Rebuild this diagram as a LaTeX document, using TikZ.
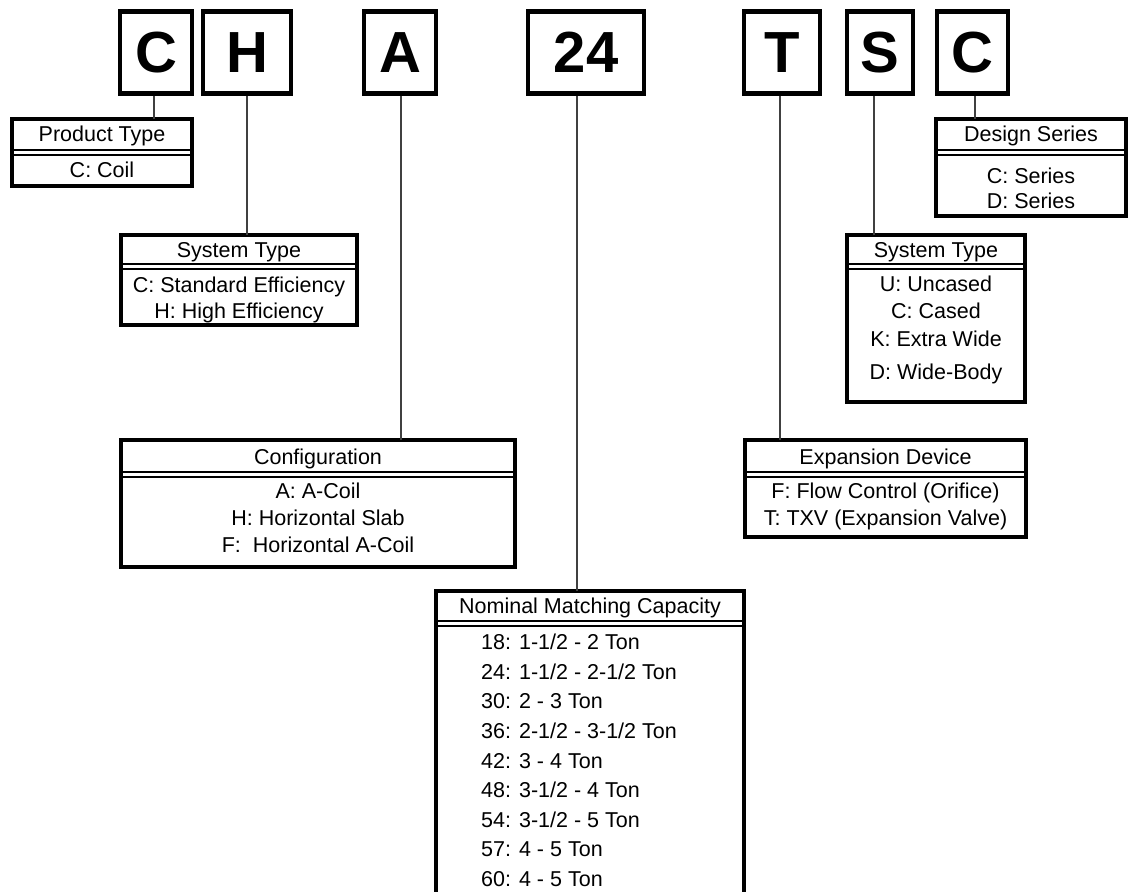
\documentclass[tikz,border=0pt]{standalone}
\usepackage{fontspec}
\setmainfont{Liberation Sans}
\begin{document}
\begin{tikzpicture}[x=1pt,y=-1pt,
  letterbox/.style={draw, line width=4.5pt, inner sep=0pt, minimum height=82pt,
    font=\fontsize{58}{58}\selectfont\bfseries},
  infobox/.style={draw, line width=4.5pt, inner sep=0pt, outer sep=0pt},
  txt/.style={inner sep=0pt, anchor=base, font=\fontsize{21.5}{24}\selectfont},
  ltxt/.style={txt, anchor=base west},
  link/.style={line width=1.2pt, draw=black!75},
  hrule/.style={line width=2.6pt},
  hrulet/.style={line width=2pt}]
\useasboundingbox (0,0) rectangle (1131,891);

% code letters
\node[letterbox, minimum width=72pt]  (lC)  at (156,52.5)   {C};
\node[letterbox, minimum width=88pt]  (lH)  at (247,52.5)   {H};
\node[letterbox, minimum width=72pt]  (lA)  at (400,52.5)   {A};
\node[letterbox, minimum width=116pt] (l24) at (586,52.5)   {24};
\node[letterbox, minimum width=76pt]  (lT)  at (782,52.5)   {T};
\node[letterbox, minimum width=66pt]  (lS)  at (880,52.5)   {S};
\node[letterbox, minimum width=71pt]  (lC2) at (972.5,52.5) {C};

% Product Type
\node[infobox, minimum width=180pt, minimum height=67pt] (pt) at (102,152.5) {};
\draw[hrule]  (12,150) -- (192,150);
\draw[hrulet] (12,154.5) -- (192,154.5);
\node[txt] (pth) at (102,141.7) {Product Type};
\node[txt] (pt1) at (102,177.7) {C: Coil};

% Design Series
\node[infobox, minimum width=190pt, minimum height=97pt] (ds) at (1031,167.5) {};
\draw[hrule]  (936,150) -- (1126,150);
\draw[hrulet] (936,154.5) -- (1126,154.5);
\node[txt] (dsh) at (1031,141.7) {Design Series};
\node[txt] (ds1) at (1031,183.7) {C: Series};
\node[txt] (ds2) at (1031,208.7) {D: Series};

% System Type (left)
\node[infobox, minimum width=236pt, minimum height=90pt] (stl) at (239,280) {};
\draw[hrule]  (121,264) -- (357,264);
\draw[hrulet] (121,268.5) -- (357,268.5);
\node[txt] (stlh) at (239,257.7) {System Type};
\node[txt] (stl1) at (239,292.7) {C: Standard Efficiency};
\node[txt] (stl2) at (239,318.7) {H: High Efficiency};

% System Type (right)
\node[infobox, minimum width=178pt, minimum height=167pt] (str) at (936,318.5) {};
\draw[hrule]  (847,264) -- (1025,264);
\draw[hrulet] (847,268.5) -- (1025,268.5);
\node[txt] (strh) at (936,257.7) {System Type};
\node[txt] (str1) at (936,291.7) {U: Uncased};
\node[txt] (str2) at (936,318.7) {C: Cased};
\node[txt] (str3) at (936,346.7) {K: Extra Wide};
\node[txt] (str4) at (936,379.7) {D: Wide-Body};

% Configuration
\node[infobox, minimum width=394pt, minimum height=127pt] (cfg) at (318,503.5) {};
\draw[hrule]  (121,472) -- (515,472);
\draw[hrulet] (121,476.5) -- (515,476.5);
\node[txt] (cfgh) at (318,464.7) {Configuration};
\node[txt] (cfg1) at (318,498.7) {A: A-Coil};
\node[txt] (cfg2) at (318,525.7) {H: Horizontal Slab};
\node[txt] (cfg3) at (318,552.7) {F:~~Horizontal A-Coil};

% Expansion Device
\node[infobox, minimum width=281pt, minimum height=97pt] (exd) at (885.5,488.5) {};
\draw[hrule]  (745,472) -- (1026,472);
\draw[hrulet] (745,476.5) -- (1026,476.5);
\node[txt] (exdh) at (885.5,464.7) {Expansion Device};
\node[txt] (exd1) at (885.5,498.7) {F: Flow Control (Orifice)};
\node[txt] (exd2) at (885.5,525.7) {T: TXV (Expansion Valve)};

% Nominal Matching Capacity (runs off the bottom)
\node[inner sep=0pt, outer sep=0pt, minimum width=308pt, minimum height=302pt, anchor=north] (nom) at (590,591) {};
\draw[line width=4.5pt] (nom.south west) -- (nom.north west) -- (nom.north east) -- (nom.south east);
\draw[hrule]  (436,621) -- (744,621);
\draw[hrulet] (436,625.5) -- (744,625.5);
\node[txt] (nomh) at (590,613.7) {Nominal Matching Capacity};
\node[ltxt] (n1) at (481,649.7) {18: 1-1/2 - 2 Ton};
\node[ltxt] (n2) at (481,679.3) {24: 1-1/2 - 2-1/2 Ton};
\node[ltxt] (n3) at (481,708.9) {30: 2 - 3 Ton};
\node[ltxt] (n4) at (481,738.5) {36: 2-1/2 - 3-1/2 Ton};
\node[ltxt] (n5) at (481,768.1) {42: 3 - 4 Ton};
\node[ltxt] (n6) at (481,797.7) {48: 3-1/2 - 4 Ton};
\node[ltxt] (n7) at (481,827.3) {54: 3-1/2 - 5 Ton};
\node[ltxt] (n8) at (481,856.9) {57: 4 - 5 Ton};
\node[ltxt] (n9) at (481,886.5) {60: 4 - 5 Ton};

% connectors
\draw[link] ([xshift=-2pt]lC.south)  -- ([xshift=-2pt]lC.south |- pt.north);
\draw[link] (lH.south)               -- (lH.south |- stl.north);
\draw[link] ([xshift=1pt]lA.south)   -- ([xshift=1pt]lA.south |- cfg.north);
\draw[link] ([xshift=-9pt]l24.south) -- ([xshift=-9pt]l24.south |- nom.north);
\draw[link] ([xshift=-2pt]lT.south)  -- ([xshift=-2pt]lT.south |- exd.north);
\draw[link] ([xshift=-6pt]lS.south)  -- ([xshift=-6pt]lS.south |- str.north);
\draw[link] ([xshift=2.5pt]lC2.south) -- ([xshift=2.5pt]lC2.south |- ds.north);
\end{tikzpicture}
\end{document}
